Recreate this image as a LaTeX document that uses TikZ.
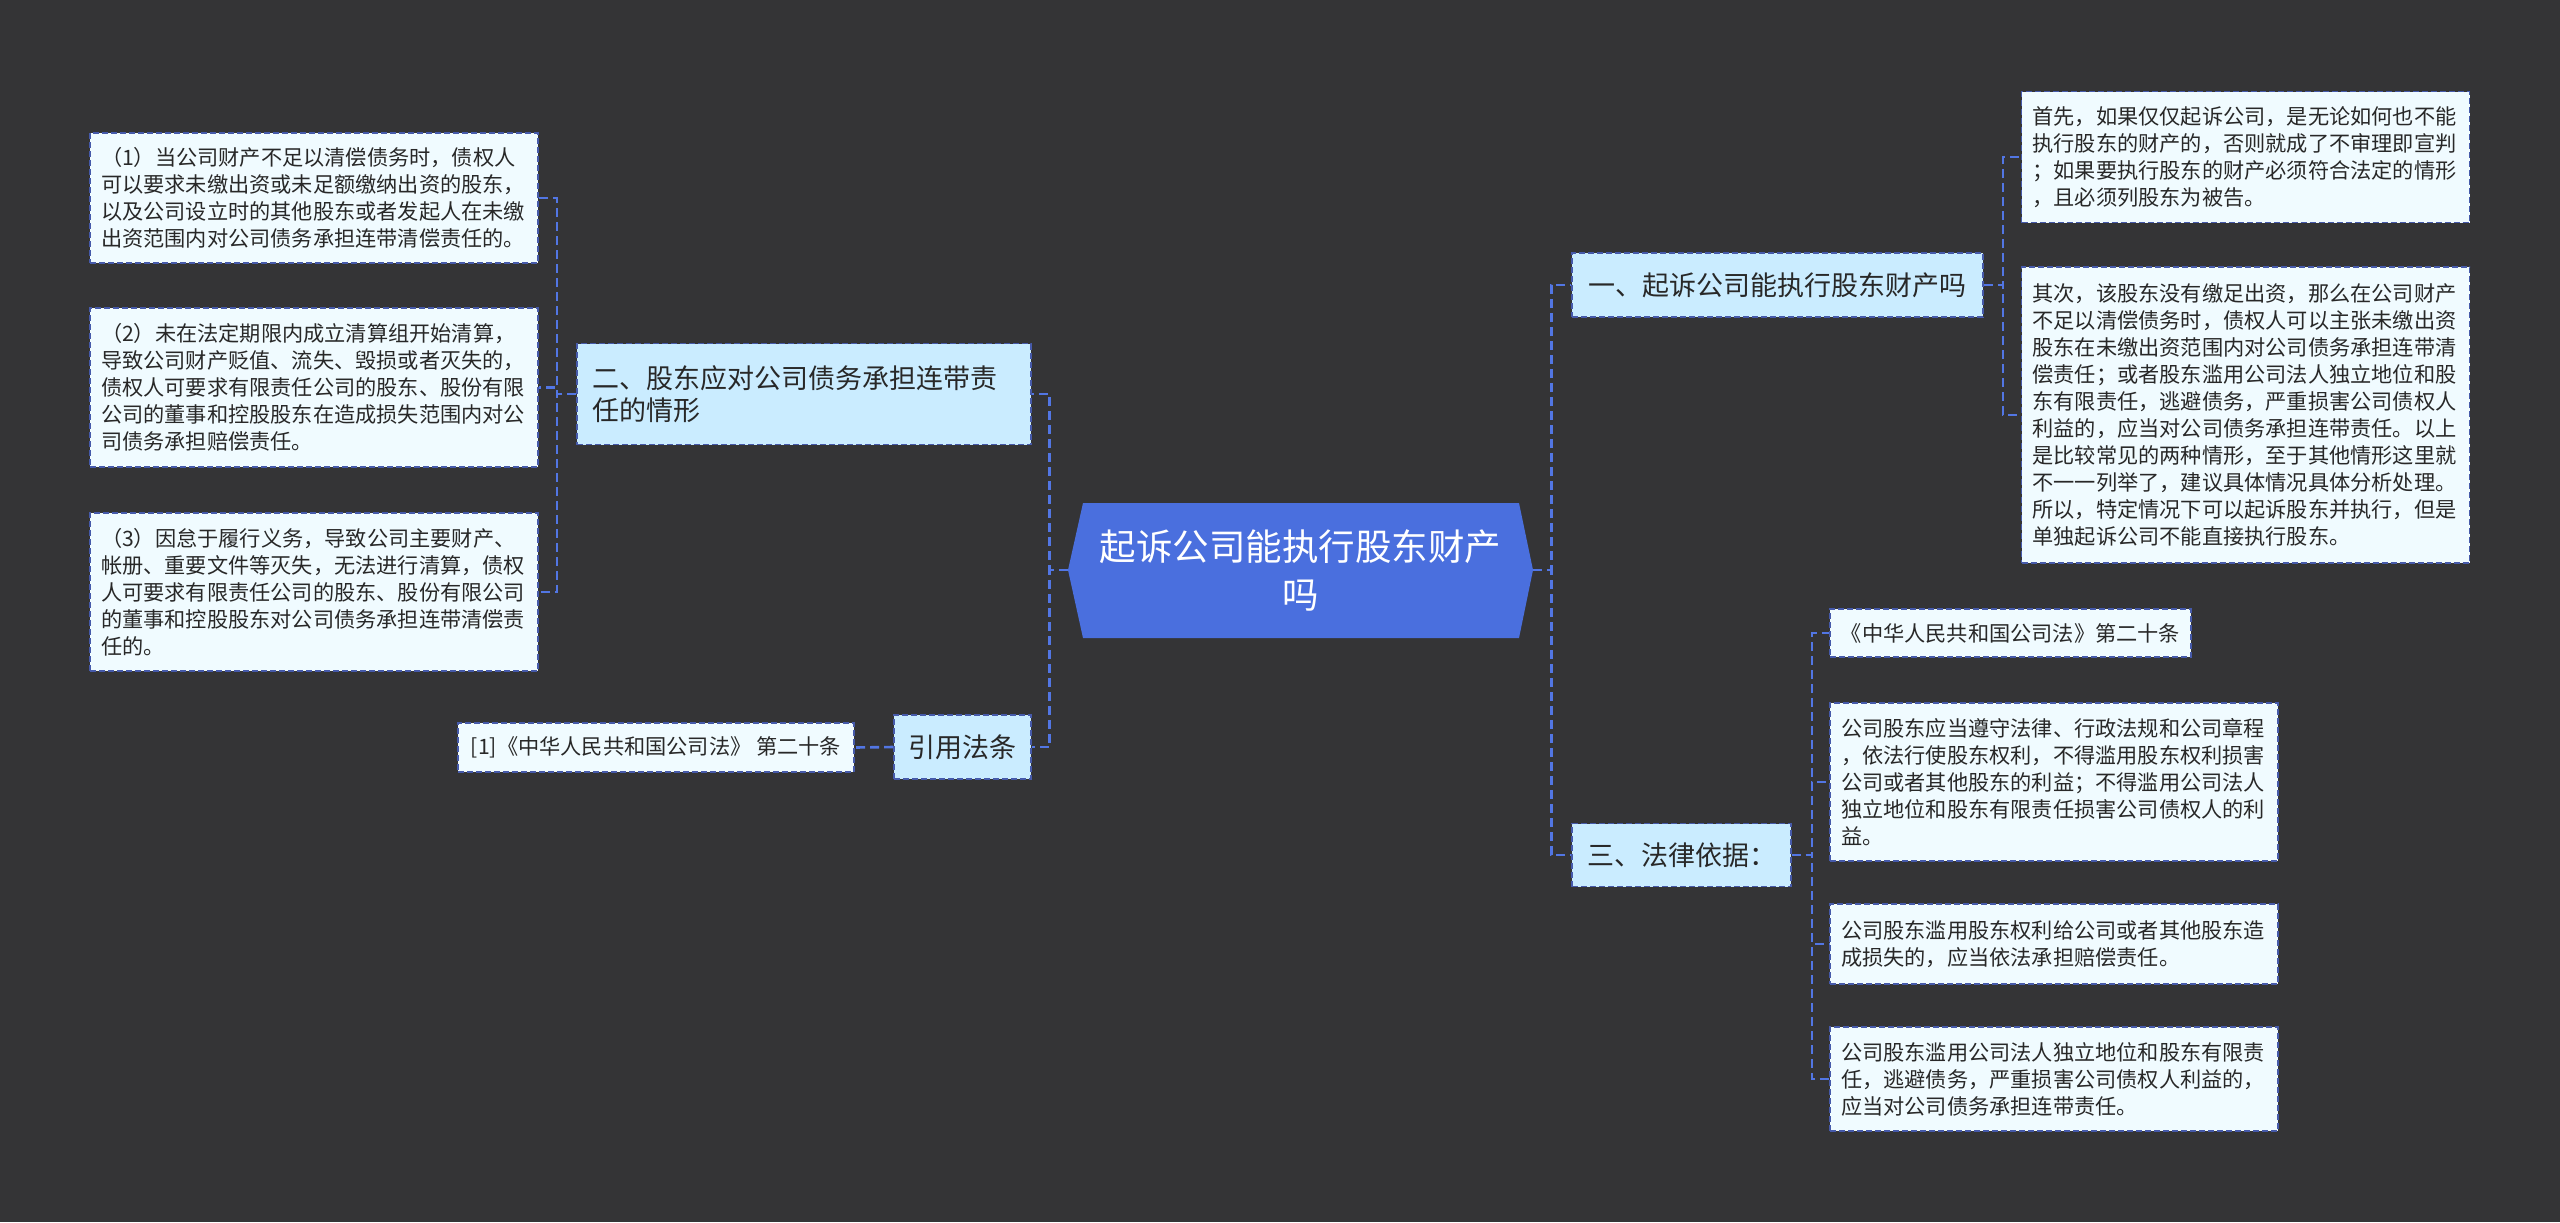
\documentclass[tikz,border=0pt]{standalone}
\usepackage{fontspec}
\setmainfont{Noto Sans CJK SC}
\definecolor{bgdark}{RGB}{52,52,54}
\definecolor{rootblue}{RGB}{74,111,222}
\definecolor{linkblue}{RGB}{82,118,228}
\definecolor{boxedge}{RGB}{70,90,170}
\definecolor{topicfill}{RGB}{202,236,255}
\definecolor{leaffill}{RGB}{240,251,255}
\definecolor{inktext}{RGB}{40,40,40}

\begin{document}
\begin{tikzpicture}[x=0.5pt, y=-0.5pt,
	link/.style={draw=linkblue, line width=1.3pt, dash pattern=on 4.5pt off 2.5pt},
	rootbox/.style={text=white, align=center, minimum width=232.5pt, minimum height=67.5pt, inner sep=0pt, font=\fontsize{18.25pt}{24pt}\selectfont},
	topicbox/.style={draw=boxedge, fill=topicfill, line width=0.9pt, dash pattern=on 3pt off 1.5pt, text=inktext, align=left, inner xsep=7.5pt, inner ysep=0pt, font=\fontsize{13.5pt}{16pt}\selectfont},
	leafbox/.style={draw=boxedge, fill=leaffill, line width=0.9pt, dash pattern=on 3pt off 1.5pt, text=inktext, align=left, inner xsep=5.5pt, inner ysep=0pt, font=\fontsize{10.6pt}{13.5pt}\selectfont}]
		% ===== Canvas =====
		\useasboundingbox (0,0) rectangle (2560,1222);
		\fill[bgdark] (0,0) rectangle (2560,1222);
		% ===== Centre topic =====
		\fill[rootblue] (1083,503) -- (1519,503) -- (1533,570) -- (1519,638) -- (1083,638) -- (1068,570) -- cycle;
		\node[rootbox] (root) at (1300.5,570) {起诉公司能执行股东财产\\吗};
		% ===== Left branch: 二 =====
		\node[topicbox, text width=212pt, minimum height=50.5pt] (sec2) at (804,394) {二、股东应对公司债务承担连带责\\任的情形};
		\node[leafbox, text width=213pt, minimum height=65pt] (sec2a) at (314,198) {（1）当公司财产不足以清偿债务时，债权人\\可以要求未缴出资或未足额缴纳出资的股东，\\以及公司设立时的其他股东或者发起人在未缴\\出资范围内对公司债务承担连带清偿责任的。};
		\node[leafbox, text width=213pt, minimum height=79.5pt] (sec2b) at (314,387.5) {（2）未在法定期限内成立清算组开始清算，\\导致公司财产贬值、流失、毁损或者灭失的，\\债权人可要求有限责任公司的股东、股份有限\\公司的董事和控股股东在造成损失范围内对公\\司债务承担赔偿责任。};
		\node[leafbox, text width=213pt, minimum height=79pt] (sec2c) at (314,592) {（3）因怠于履行义务，导致公司主要财产、\\帐册、重要文件等灭失，无法进行清算，债权\\人可要求有限责任公司的股东、股份有限公司\\的董事和控股股东对公司债务承担连带清偿责\\任的。};
		% ===== Left branch: 引用法条 =====
		\node[topicbox, minimum width=68.5pt, minimum height=32pt, align=center, inner xsep=0pt] (cite) at (962.5,747) {引用法条};
		\node[leafbox, minimum width=198pt, minimum height=24.5pt, inner xsep=0pt] (citeref) at (656,747.5) {[1]《中华人民共和国公司法》 第二十条};
		% ===== Right branch: 一 =====
		\node[topicbox, minimum width=205.5pt, minimum height=32pt, inner xsep=0pt] (sec1) at (1777.5,285) {一、起诉公司能执行股东财产吗};
		\node[leafbox, text width=213pt, minimum height=65.5pt] (sec1a) at (2245.5,157) {首先，如果仅仅起诉公司，是无论如何也不能\\执行股东的财产的，否则就成了不审理即宣判\\；如果要执行股东的财产必须符合法定的情形\\，且必须列股东为被告。};
		\node[leafbox, text width=213pt, minimum height=148pt] (sec1b) at (2245.5,415) {其次，该股东没有缴足出资，那么在公司财产\\不足以清偿债务时，债权人可以主张未缴出资\\股东在未缴出资范围内对公司债务承担连带清\\偿责任；或者股东滥用公司法人独立地位和股\\东有限责任，逃避债务，严重损害公司债权人\\利益的，应当对公司债务承担连带责任。以上\\是比较常见的两种情形，至于其他情形这里就\\不一一列举了，建议具体情况具体分析处理。\\所以，特定情况下可以起诉股东并执行，但是\\单独起诉公司不能直接执行股东。};
		% ===== Right branch: 三 =====
		\node[topicbox, minimum width=109.5pt, minimum height=31.5pt, inner xsep=0pt] (sec3) at (1681.5,855) {三、法律依据：};
		\node[leafbox, minimum width=180.5pt, minimum height=24pt, inner xsep=0pt] (sec3a) at (2010.5,633) {《中华人民共和国公司法》第二十条};
		\node[leafbox, text width=213pt, minimum height=79pt] (sec3b) at (2054,782) {公司股东应当遵守法律、行政法规和公司章程\\，依法行使股东权利，不得滥用股东权利损害\\公司或者其他股东的利益；不得滥用公司法人\\独立地位和股东有限责任损害公司债权人的利\\益。};
		\node[leafbox, text width=213pt, minimum height=40pt] (sec3c) at (2054,944) {公司股东滥用股东权利给公司或者其他股东造\\成损失的，应当依法承担赔偿责任。};
		\node[leafbox, text width=213pt, minimum height=52pt] (sec3d) at (2054,1079) {公司股东滥用公司法人独立地位和股东有限责\\任，逃避债务，严重损害公司债权人利益的，\\应当对公司债务承担连带责任。};
		% ===== Connectors =====
		\foreach \kid in {sec2, cite} {
			\draw[link] (root.west) -- ++(-18,0) |- (\kid.east);
		}
		\foreach \kid in {sec2a, sec2b, sec2c} {
			\draw[link] (sec2.west) -- ++(-19,0) |- (\kid.east);
		}
		\draw[link] (cite.west) -- (citeref.east);
		\foreach \kid in {sec1, sec3} {
			\draw[link] (root.east) -- ++(18,0) |- (\kid.west);
		}
		\foreach \kid in {sec1a, sec1b} {
			\draw[link] (sec1.east) -- ++(19,0) |- (\kid.west);
		}
		\foreach \kid in {sec3a, sec3b, sec3c, sec3d} {
			\draw[link] (sec3.east) -- ++(20,0) |- (\kid.west);
		}
	\end{tikzpicture}
\end{document}
